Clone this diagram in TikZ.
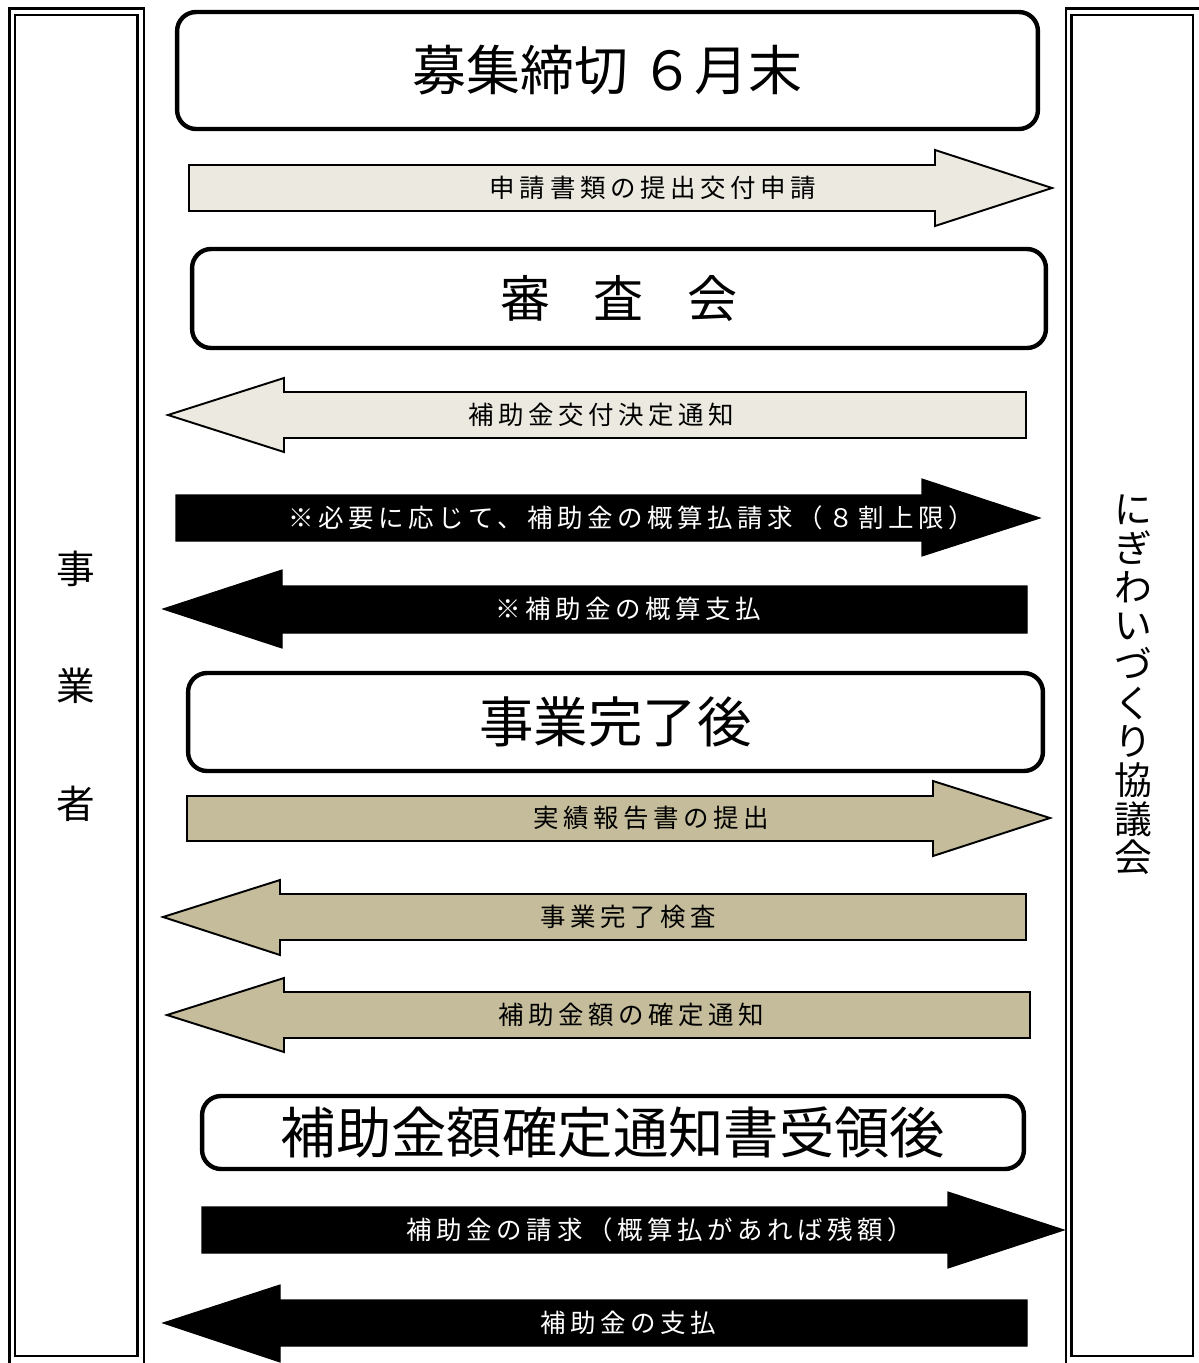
\documentclass[tikz,border=0pt]{standalone}
\usepackage{fontspec}
\setmainfont{Noto Sans CJK JP}
\newfontfamily\spacedfont[LetterSpace=18]{Noto Sans CJK JP}
\definecolor{palefill}{RGB}{236,234,224}
\definecolor{khakifill}{RGB}{196,188,154}

\tikzset{
  panel/.style={draw, line width=1.6pt},
  stagebox/.style={draw, line width=2.5pt, rounded corners=0.38cm, inner sep=0pt},
  palearrow/.style={draw, fill=palefill, line width=1.1pt},
  khakiarrow/.style={draw, fill=khakifill, line width=1.1pt},
  darkarrow/.style={draw, fill=black, line width=0.6pt},
  flowlabel/.style={inner sep=0pt, font={\spacedfont\fontsize{14.5pt}{17pt}\selectfont}},
  whitelabel/.style={flowlabel, text=white},
}

\begin{document}
\begin{tikzpicture}[x=0.02cm, y=-0.02cm]
\useasboundingbox (0,0) rectangle (1198,1363);

% side panels
\draw[panel] (9.5,8.5) rectangle (144,1400);
\draw[panel] (15,15) rectangle (137.5,1356);
\draw[panel] (1066,8.5) rectangle (1210,1400);
\draw[panel] (1071.5,15) rectangle (1193,1356);

\node[align=center, inner sep=0pt, font={\fontsize{22pt}{66.9pt}\selectfont}] (jigyosha) at (76,686) {事\\業\\者};
\node[align=center, inner sep=0pt, font={\fontsize{21.5pt}{22pt}\selectfont}] (kyogikai) at (1133,685) {に\\ぎ\\わ\\い\\づ\\く\\り\\協\\議\\会};

% stages
\node[stagebox, minimum width=17.22cm, minimum height=2.34cm, font={\fontsize{30.7pt}{36pt}\selectfont}] (deadline) at (607.5,70.5) {募集締切 ６月末};
\node[stagebox, minimum width=17.08cm, minimum height=1.98cm, font={\fontsize{28.5pt}{34pt}\selectfont}] (review) at (619,298.5) {審\hspace{0.86em}査\hspace{0.86em}会};
\node[stagebox, minimum width=17.10cm, minimum height=1.96cm, font={\fontsize{31pt}{36pt}\selectfont}] (finish) at (615.5,722) {事業完了後};
\node[stagebox, minimum width=16.44cm, minimum height=1.46cm, font={\fontsize{31.5pt}{36pt}\selectfont}] (receipt) at (613,1132.5) {補助金額確定通知書受領後};

% flows
\filldraw[palearrow] (189,165) -- (935,165) -- (935,150) -- (1052,188) -- (935,226) -- (935,211) -- (189,211) -- cycle;
\node[flowlabel] (apply) at (653,188) {申請書類の提出交付申請};

\filldraw[palearrow] (1026,392) -- (284,392) -- (284,378) -- (168,415) -- (284,452) -- (284,438) -- (1026,438) -- cycle;
\node[flowlabel] (decision) at (601,415) {補助金交付決定通知};

\filldraw[darkarrow] (176,495) -- (922,495) -- (922,479) -- (1040,518) -- (922,556) -- (922,541) -- (176,541) -- cycle;
\node[whitelabel] (advreq) at (631,518) {※必要に応じて、補助金の概算払請求（８割上限）};

\filldraw[darkarrow] (1027,586) -- (282,586) -- (282,570) -- (163,609) -- (282,648) -- (282,633) -- (1027,633) -- cycle;
\node[whitelabel] (advpay) at (628,609) {※補助金の概算支払};

\filldraw[khakiarrow] (187,796) -- (933,796) -- (933,781) -- (1050,818) -- (933,856) -- (933,841) -- (187,841) -- cycle;
\node[flowlabel] (report) at (651,818) {実績報告書の提出};

\filldraw[khakiarrow] (1026,894) -- (280,894) -- (280,880) -- (163,917) -- (280,955) -- (280,940) -- (1026,940) -- cycle;
\node[flowlabel] (inspect) at (628,917) {事業完了検査};

\filldraw[khakiarrow] (1030,992) -- (284,992) -- (284,978) -- (167,1015) -- (284,1052) -- (284,1038) -- (1030,1038) -- cycle;
\node[flowlabel] (confirm) at (631,1015) {補助金額の確定通知};

\filldraw[darkarrow] (202,1207) -- (948,1207) -- (948,1192) -- (1064,1230) -- (948,1268) -- (948,1253) -- (202,1253) -- cycle;
\node[whitelabel] (claim) at (660,1230) {補助金の請求（概算払があれば残額）};

\filldraw[darkarrow] (1027,1300) -- (280,1300) -- (280,1285) -- (163,1323) -- (280,1362) -- (280,1346) -- (1027,1346) -- cycle;
\node[whitelabel] (payment) at (628,1323) {補助金の支払};

\end{tikzpicture}
\end{document}
